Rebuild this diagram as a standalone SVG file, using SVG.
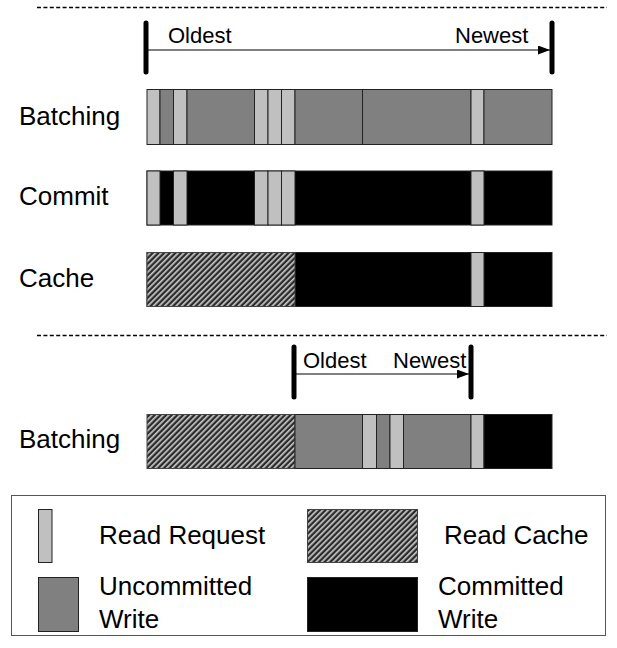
<svg xmlns="http://www.w3.org/2000/svg" width="617" height="648" viewBox="0 0 617 648">
<style>
text{font-family:"Liberation Sans",Arial,sans-serif;fill:#000}
.lbl{font-size:26px}
.t22{font-size:22px}
.r{fill:#c0c0c0;stroke:#222;stroke-width:1}
.u{fill:#808080;stroke:#222;stroke-width:1}
.c{fill:#000;stroke:#222;stroke-width:1}
.h{fill:url(#hatch);stroke:#444;stroke-width:1}
.dash{stroke:#000;stroke-width:1.6;stroke-dasharray:4 2.4;fill:none}
.tick{stroke:#000;stroke-width:5;stroke-linecap:round}
.arr{stroke:#000;stroke-width:1;fill:none}
</style>
<defs>
<pattern id="hatch" patternUnits="userSpaceOnUse" width="4" height="4" patternTransform="rotate(45)">
<rect width="4" height="4" fill="#2a2a2a"/>
<rect x="0" y="0" width="1.7" height="4" fill="#c8c8c8"/>
</pattern>
<marker id="ah" markerWidth="12" markerHeight="9" refX="12" refY="4.5" orient="auto" markerUnits="userSpaceOnUse">
<path d="M0,0 L12,4.5 L0,9 Z" fill="#000"/>
</marker>
</defs>

<g id="connectors">
<line class="dash" x1="37" y1="7.5" x2="607" y2="7.5"/>
<line class="dash" x1="37" y1="335.5" x2="607" y2="335.5"/>
<line class="arr" x1="147" y1="50" x2="550" y2="50" marker-end="url(#ah)"/>
<line class="arr" x1="296" y1="374" x2="469" y2="374" marker-end="url(#ah)"/>
</g>

<g id="timeline1">
<line class="tick" x1="146" y1="23" x2="146" y2="72"/>
<line class="tick" x1="552" y1="23" x2="552" y2="72"/>
<text class="t22" x="168" y="43">Oldest</text>
<text class="t22" x="455" y="43">Newest</text>
</g>

<g id="batching1">
<text class="lbl" x="19" y="125">Batching</text>
<rect class="r" x="147" y="89.5" width="13" height="55"/>
<rect class="u" x="160" y="89.5" width="13.5" height="55"/>
<rect class="r" x="173.5" y="89.5" width="13.5" height="55"/>
<rect class="u" x="187" y="89.5" width="67.5" height="55"/>
<rect class="r" x="254.5" y="89.5" width="13.5" height="55"/>
<rect class="r" x="268" y="89.5" width="13.5" height="55"/>
<rect class="r" x="281.5" y="89.5" width="13.5" height="55"/>
<rect class="u" x="295" y="89.5" width="67.5" height="55"/>
<rect class="u" x="362.5" y="89.5" width="108.5" height="55"/>
<rect class="r" x="471" y="89.5" width="13" height="55"/>
<rect class="u" x="484" y="89.5" width="68" height="55"/>
</g>

<g id="commit">
<text class="lbl" x="19" y="205">Commit</text>
<rect class="c" x="147" y="171" width="405" height="54"/>
<rect class="r" x="147" y="171" width="13" height="54"/>
<rect class="r" x="173.5" y="171" width="13.5" height="54"/>
<rect class="r" x="254.5" y="171" width="13.5" height="54"/>
<rect class="r" x="268" y="171" width="13.5" height="54"/>
<rect class="r" x="281.5" y="171" width="13.5" height="54"/>
<rect class="r" x="471" y="171" width="13" height="54"/>
</g>

<g id="cache">
<text class="lbl" x="19" y="287">Cache</text>
<rect class="c" x="147" y="252.5" width="405" height="54"/>
<rect class="h" x="147" y="252.5" width="148" height="54"/>
<rect class="r" x="471" y="252.5" width="13" height="54"/>
</g>

<g id="timeline2">
<line class="tick" x1="294" y1="347" x2="294" y2="397"/>
<line class="tick" x1="471" y1="347" x2="471" y2="397"/>
<text class="t22" x="303" y="368">Oldest</text>
<text class="t22" x="393" y="368">Newest</text>
</g>

<g id="batching2">
<text class="lbl" x="19" y="448">Batching</text>
<rect class="h" x="147" y="414.5" width="148" height="54"/>
<rect class="u" x="295" y="414.5" width="67.5" height="54"/>
<rect class="r" x="362.5" y="414.5" width="14" height="54"/>
<rect class="u" x="376.5" y="414.5" width="13.5" height="54"/>
<rect class="r" x="390" y="414.5" width="13.5" height="54"/>
<rect class="u" x="403.5" y="414.5" width="67.5" height="54"/>
<rect class="r" x="471" y="414.5" width="13" height="54"/>
<rect class="c" x="484" y="414.5" width="68" height="54"/>
</g>

<g id="legend">
<rect x="11.5" y="495.5" width="594" height="140" fill="#fff" stroke="#555" stroke-width="1"/>
<rect class="r" x="38.5" y="509.5" width="13.5" height="53"/>
<text class="lbl" x="99" y="544">Read Request</text>
<rect class="h" x="307.5" y="509.5" width="110" height="53"/>
<text class="lbl" x="444" y="544">Read Cache</text>
<rect class="u" x="38.5" y="577.5" width="40" height="54"/>
<text class="lbl" x="99" y="595">Uncommitted</text>
<text class="lbl" x="99" y="628">Write</text>
<rect class="c" x="307.5" y="577.5" width="110" height="54"/>
<text class="lbl" x="438" y="595">Committed</text>
<text class="lbl" x="438" y="628">Write</text>
</g>
</svg>
